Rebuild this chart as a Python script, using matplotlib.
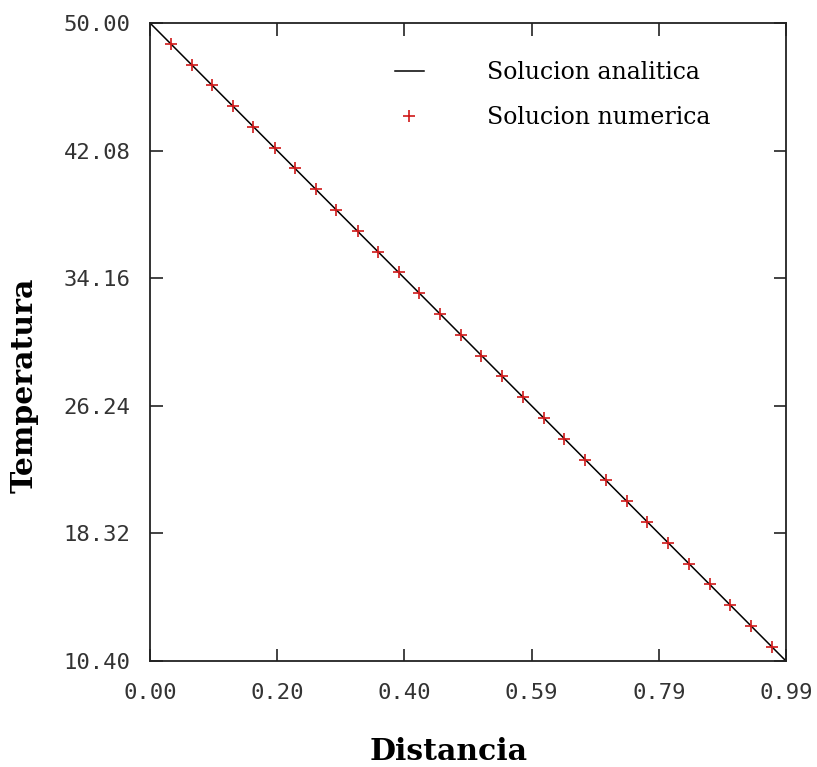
import numpy as np
import matplotlib
matplotlib.use('Agg')
import matplotlib.pyplot as plt

# solucion analitica: extremos de la recta
x_analitica = [0.0, 0.99]
T_analitica = [50.0, 10.40]

# solucion numerica (nodos interiores)
x_numerica = [0.032, 0.065, 0.097, 0.129, 0.161, 0.194, 0.226, 0.258, 0.290, 0.323,
              0.355, 0.387, 0.419, 0.452, 0.484, 0.516, 0.548, 0.581, 0.613, 0.645,
              0.677, 0.710, 0.742, 0.774, 0.806, 0.839, 0.871, 0.903, 0.935, 0.968]
T_numerica = [48.71, 47.42, 46.13, 44.84, 43.55, 42.26, 40.97, 39.68, 38.39, 37.10,
              35.81, 34.52, 33.23, 31.94, 30.65, 29.35, 28.06, 26.77, 25.48, 24.19,
              22.90, 21.61, 20.32, 19.03, 17.74, 16.45, 15.16, 13.87, 12.58, 11.29]

xticks = [0.0, 0.198, 0.396, 0.594, 0.792, 0.99]
xlabels = ['0.00', '0.20', '0.40', '0.59', '0.79', '0.99']
yticks = [10.40, 18.32, 26.24, 34.16, 42.08, 50.00]
ylabels = ['10.40', '18.32', '26.24', '34.16', '42.08', '50.00']

fig = plt.figure(figsize=(8.17, 7.67), dpi=100)
ax = fig.add_axes([150/817, 1 - 661/767, 636/817, 638/767])

ax.plot(x_analitica, T_analitica, color='black', lw=1.1, label='Solucion analitica')
ax.plot(x_numerica, T_numerica, ls='none', marker='+', ms=9, mew=1.2,
        color='#d01818', label='Solucion numerica')

ax.set_xlim(0, 0.99)
ax.set_ylim(10.40, 50.00)
ax.set_xticks(xticks)
ax.set_xticklabels(xlabels)
ax.set_yticks(yticks)
ax.set_yticklabels(ylabels)
ax.tick_params(direction='in', length=9, width=1.2, color='#222222',
               top=True, right=True, labelsize=16, pad=14)
ax.tick_params(axis='x', pad=16)
for lab in ax.get_xticklabels() + ax.get_yticklabels():
    lab.set_family('DejaVu Sans Mono')
    lab.set_color('#333333')
for s in ax.spines.values():
    s.set_linewidth(1.3)
    s.set_color('#222222')

fig.text(24/817, 1 - 385/767, 'Temperatura', rotation=90, ha='center', va='center',
         fontsize=21.5, fontweight='bold', family='DejaVu Serif')
fig.text(449/817, 1 - 751/767, 'Distancia', ha='center', va='center',
         fontsize=21.5, fontweight='bold', family='DejaVu Serif')

leg = ax.legend(loc='upper left', bbox_to_anchor=(374/817, 1 - 40/767),
                bbox_transform=fig.transFigure, frameon=False,
                prop={'family': 'DejaVu Serif', 'size': 17},
                handlelength=1.2, handletextpad=2.7, labelspacing=0.92)

fig.savefig('out.png', dpi=100)
